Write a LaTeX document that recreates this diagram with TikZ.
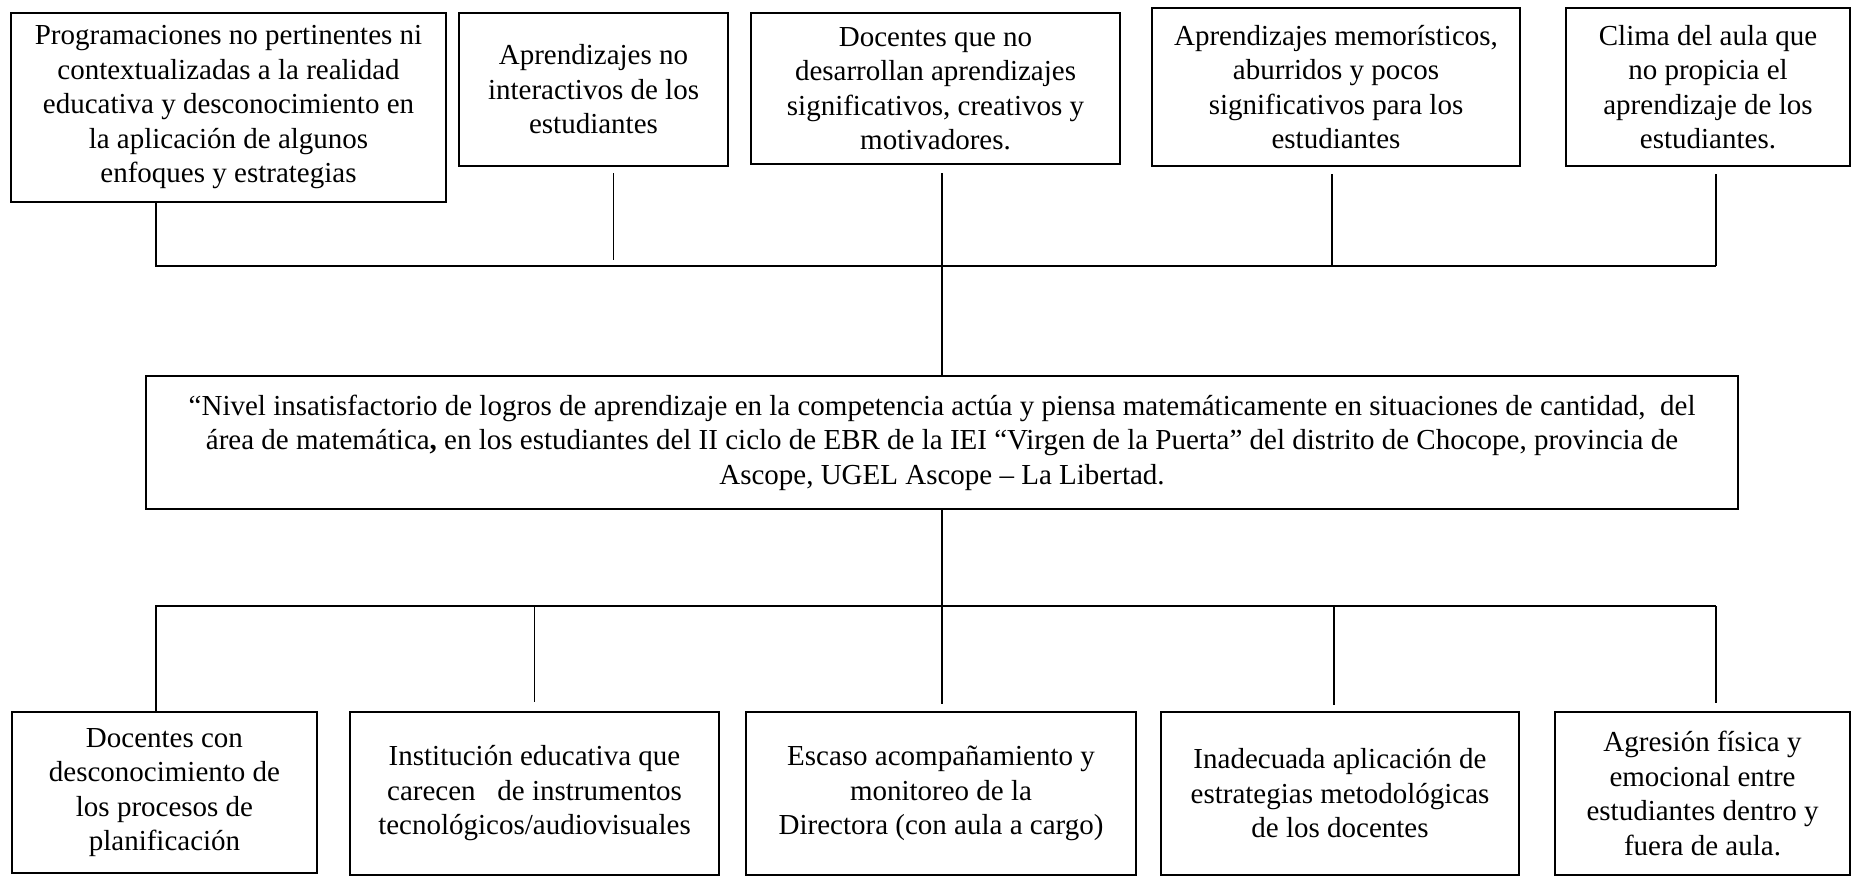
\documentclass[tikz,border=0pt]{standalone}
\usepackage{fontspec}
\setmainfont{Liberation Serif}
\usepackage{tikz}

\begin{document}
\begin{tikzpicture}[x=1pt,y=-1pt,
  caja/.style={draw, line width=2.6pt, align=center, inner sep=3pt,
    font=\fontsize{29}{34.5}\selectfont},
  linea/.style={line width=1.3pt}]

\useasboundingbox (0,0) rectangle (1858,878);

\node[caja, minimum width=435pt, minimum height=189pt] (prog) at (228.5,107.5) {Programaciones no pertinentes ni\\contextualizadas a la realidad\\educativa y desconocimiento en\\la aplicación de algunos\\enfoques y estrategias};
\node[caja, minimum width=269pt, minimum height=153pt] (aprend) at (593.5,89.5) {Aprendizajes no\\interactivos de los\\estudiantes};
\node[caja, minimum width=369pt, minimum height=151pt] (docentes) at (935.5,88.5) {Docentes que no\\desarrollan aprendizajes\\significativos, creativos y\\motivadores.};
\node[caja, minimum width=368pt, minimum height=158pt] (memor) at (1336,87) {Aprendizajes memorísticos,\\aburridos y pocos\\significativos para los\\estudiantes};
\node[caja, minimum width=284pt, minimum height=158pt] (clima) at (1708,87) {Clima del aula que\\no propicia el\\aprendizaje de los\\estudiantes.};

\node[caja, minimum width=1592pt, minimum height=133pt] (problema) at (942,442.5) {“Nivel insatisfactorio de logros de aprendizaje en la competencia actúa y piensa matemáticamente en situaciones de cantidad,\ \ del\\área de matemática\textbf{,} en los estudiantes del II ciclo de EBR de la IEI “Virgen de la Puerta” del distrito de Chocope, provincia de\\Ascope, UGEL Ascope – La Libertad.};

\node[caja, minimum width=305pt, minimum height=161pt] (planif) at (164.5,792.5) {Docentes con\\desconocimiento de\\los procesos de\\planificación};
\node[caja, minimum width=369pt, minimum height=163pt] (inst) at (534.5,793.5) {Institución educativa que\\carecen\ \ \ de instrumentos\\tecnológicos/audiovisuales};
\node[caja, minimum width=390pt, minimum height=163pt] (acomp) at (941,793.5) {Escaso acompañamiento y\\monitoreo de la\\Directora (con aula a cargo)};
\node[caja, minimum width=358pt, minimum height=163pt] (inadec) at (1340,793.5) {Inadecuada aplicación de\\estrategias metodológicas\\de los docentes};
\node[caja, minimum width=295pt, minimum height=163pt] (agresion) at (1702.5,793.5) {Agresión física y\\emocional entre\\estudiantes dentro y\\fuera de aula.};

\coordinate (izqA) at (156,266);
\coordinate (derA) at (1716,266);
\coordinate (izqB) at (156,606);
\coordinate (derB) at (1716,606);

\draw[linea] (prog.south -| izqA) -- (izqA) -- (derA);
\draw[linea, shorten <=6pt, shorten >=6pt] ([xshift=20pt]aprend.south) -- ([xshift=20pt]aprend.south |- izqA);
\draw[linea, shorten <=8pt] (docentes.south -| problema.north) -- (problema.north);
\draw[linea, shorten <=7pt] ([xshift=-4pt]memor.south) -- ([xshift=-4pt]memor.south |- izqA);
\draw[linea, shorten <=7pt] (clima.south -| derA) -- (derA);

\draw[linea, shorten >=7pt] (problema.south) -- (problema.south |- acomp.north);
\draw[linea] (planif.north -| izqB) -- (izqB) -- (derB);
\draw[linea, shorten >=9pt] (inst.north |- izqB) -- (inst.north);
\draw[linea, shorten >=6pt] ([xshift=-6pt]inadec.north |- izqB) -- ([xshift=-6pt]inadec.north);
\draw[linea, shorten >=8pt] (derB) -- (agresion.north -| derB);

\end{tikzpicture}
\end{document}
